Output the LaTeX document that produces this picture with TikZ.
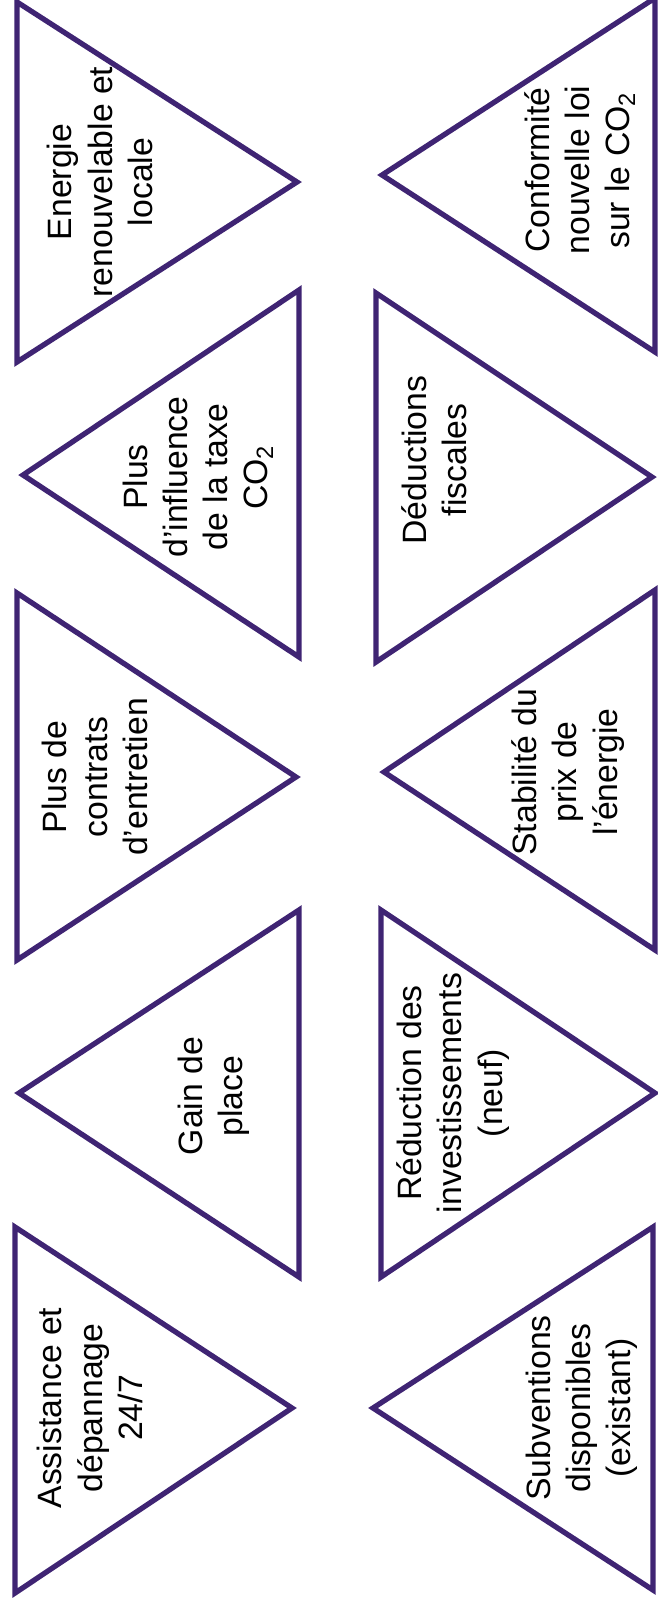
\documentclass[tikz,border=0pt]{standalone}
\usepackage{fontspec}
\setmainfont{Liberation Sans}
\usepackage{tikz}
\definecolor{tripurple}{HTML}{3F2473}
\tikzset{
  tri/.style ={draw=tripurple, line width=1.5pt},
  lbl/.style ={rotate=90, align=center, inner sep=0pt,
               font=\fontsize{9.6}{11.4}\selectfont},
}
% base x / base top / base bottom / apex x / apex y  (pixel units)
\def\leftcol{%
  17/2/362/297/182, 299/290/657/23/475, 17/593/960/296/777,
  299/910/1277/19/1093, 15/1227/1593/292/1408}
\def\rightcol{%
  655/-2/352/382/175, 376/293/662/652/477, 655/590/950/384/772,
  381/910/1277/655/1093, 653/1227/1590/373/1408}

\begin{document}
\begin{tikzpicture}[x=0.01cm,y=-0.01cm]
  \useasboundingbox (0,0) rectangle (658,1605);
  \foreach \bx/\ta/\tb/\ax/\ay in \leftcol
    {\draw[tri] (\bx,\ta) -- (\bx,\tb) -- (\ax,\ay) -- cycle;}
  \foreach \bx/\ta/\tb/\ax/\ay in \rightcol
    {\draw[tri] (\bx,\ta) -- (\bx,\tb) -- (\ax,\ay) -- cycle;}
  % left column
  \node[lbl] (energie)    at (100,182)  {Energie\\renouvelable et\\locale};
  \node[lbl] (influence)  at (198,477)  {Plus\\d’influence\\de la taxe\\CO\textsubscript{2}};
  \node[lbl] (contrats)   at (95,777)   {Plus de\\contrats\\d’entretien};
  \node[lbl] (gain)       at (214,1096) {Gain de\\place};
  \node[lbl] (assistance) at (90,1408)  {Assistance et\\dépannage\\24/7};
  % right column
  \node[lbl] (conformite)  at (580,170)  {Conformité\\nouvelle loi\\sur le CO\textsubscript{2}};
  \node[lbl] (deductions)  at (434,460)  {Déductions\\fiscales};
  \node[lbl] (stabilite)   at (568,772)  {Stabilité du\\prix de\\l’énergie};
  \node[lbl] (reduction)   at (453,1093) {Réduction des\\investissements\\(neuf)};
  \node[lbl] (subventions) at (582,1408) {Subventions\\disponibles\\(existant)};
\end{tikzpicture}
\end{document}
